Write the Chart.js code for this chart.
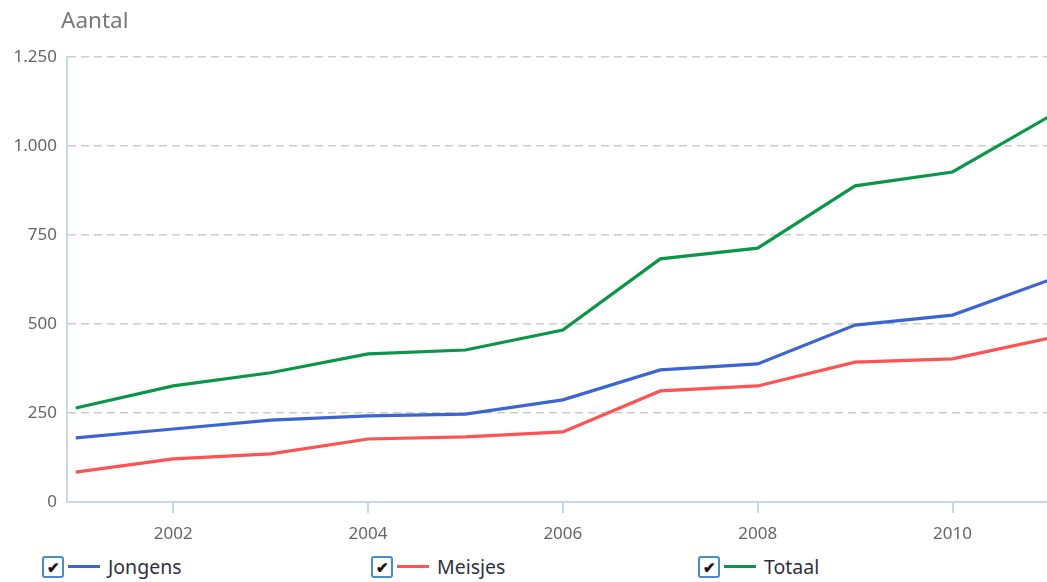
<!DOCTYPE html>
<html>
<head>
<meta charset="utf-8">
<script src="https://cdn.jsdelivr.net/npm/chart.js@4"></script>
<style>
  html, body { margin: 0; padding: 0; background: #fff; }
  #wrap { position: relative; width: 1047px; height: 582px; overflow: hidden; font-family: "Noto Sans", sans-serif; }
  #yTitle { position: absolute; left: 61px; top: 4px; font-size: 22.5px; color: #777; }
  #chart { position: absolute; left: 0; top: 0; }
  .leg { position: absolute; top: 553px; display: flex; align-items: center; font-size: 19.5px; color: #2f2f3f; }
  .box { width: 18px; height: 18px; border: 2px solid #4a8cc8; border-radius: 3px; background: #fff;
         font-size: 15px; line-height: 18px; text-align: center; color: #111; font-weight: bold; }
  .ln { width: 32px; height: 3px; margin: 0 8px 0 4px; }
</style>
</head>
<body>
<div id="wrap">
  <canvas id="chart" width="1047" height="545"></canvas>
  <div id="yTitle">Aantal</div>
  <div id="legend"></div>
</div>
<script>
const jaren = [2001, 2002, 2003, 2004, 2005, 2006, 2007, 2008, 2009, 2010, 2011];
const jongens = [180, 205, 230, 242, 247, 287, 371, 388, 497, 525, 624];
const meisjes = [84, 121, 135, 177, 183, 197, 312, 326, 393, 402, 461];
const totaal = [264, 326, 363, 416, 427, 483, 683, 713, 888, 927, 1084];
const xTicks = [2002, 2004, 2006, 2008, 2010];
const yTicks = [0, 250, 500, 750, 1000, 1250];

const series = [
    { label: "Jongens", data: jongens, color: "#3c64d2", left: 42 },
    { label: "Meisjes", data: meisjes, color: "#ff5252", left: 371 },
    { label: "Totaal", data: totaal, color: "#0b9647", left: 698 },
];

function fmt(v) {
    if (v >= 1000) return Math.floor(v / 1000) + "." + String(v % 1000).padStart(3, "0");
    return String(v);
}

const H = 545;
const ctx = document.getElementById("chart").getContext("2d");
new Chart(ctx, {
    type: "line",
    data: {
        datasets: series.map(s => ({
            label: s.label,
            data: jaren.map((j, i) => ({ x: j, y: s.data[i] })),
            borderColor: s.color,
            borderWidth: 3.2,
            fill: false,
            tension: 0,
            pointRadius: 0,
        })),
    },
    options: {
        responsive: false,
        animation: false,
        layout: { padding: { top: 57, left: 0, right: 0, bottom: 0 } },
        plugins: { legend: { display: false }, tooltip: { enabled: false } },
        scales: {
            x: {
                type: "linear",
                min: 2000.91,
                max: 2010.97,
                afterBuildTicks: s => { s.ticks = xTicks.map(v => ({ value: v })); },
                afterFit: s => { s.height = H - 502; },
                ticks: { color: "#666", font: { family: "Noto Sans", size: 17 }, padding: 11, callback: v => String(v) },
                grid: { drawOnChartArea: false, drawTicks: true, tickLength: 11, color: "#c9d6e4", lineWidth: 2 },
                border: { display: true, color: "#c9d6e4", width: 2 },
            },
            y: {
                min: 0,
                max: 1250,
                afterBuildTicks: s => { s.ticks = yTicks.map(v => ({ value: v })); },
                afterFit: s => { s.width = 67; },
                ticks: { color: "#666", font: { family: "Noto Sans", size: 17 }, padding: 10, callback: v => fmt(v) },
                grid: { drawTicks: false, color: "#cccccc", lineWidth: 1.5 },
                border: { display: true, color: "#c9d6e4", width: 2, dash: [8, 5] },
            },
        },
    },
});

const legend = document.getElementById("legend");
series.forEach(s => {
    const el = document.createElement("div");
    el.className = "leg";
    el.style.left = s.left + "px";
    el.innerHTML = '<div class="box">&#10004;</div><div class="ln" style="background:' + s.color + '"></div><span>' + s.label + '</span>';
    legend.appendChild(el);
});
</script>
</body>
</html>
